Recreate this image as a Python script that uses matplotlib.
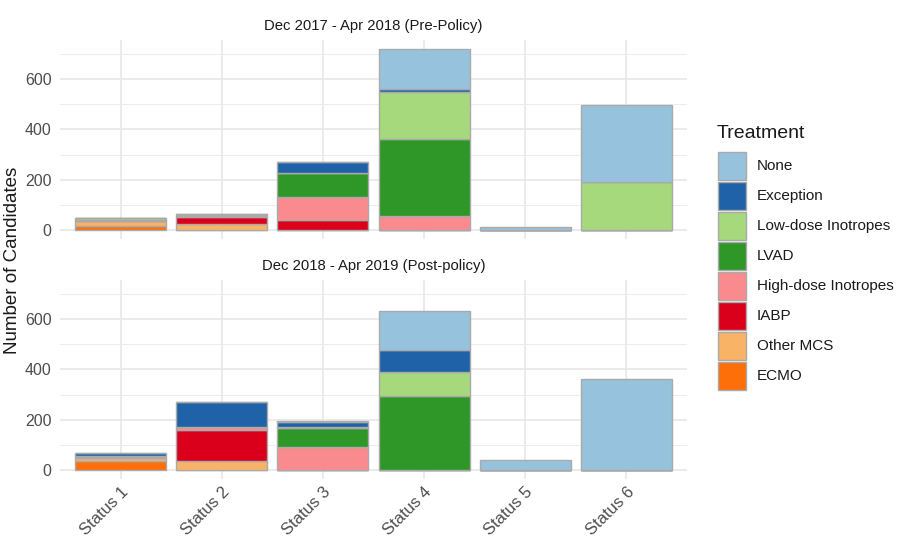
import matplotlib
matplotlib.use("Agg")
import matplotlib.pyplot as plt
from matplotlib.patches import Rectangle
import numpy as np

plt.rcParams['font.family'] = ['Liberation Sans', 'DejaVu Sans']

statuses = ["Status 1", "Status 2", "Status 3", "Status 4", "Status 5", "Status 6"]
treatments = ["ECMO", "Other MCS", "IABP", "High-dose Inotropes", "LVAD",
              "Low-dose Inotropes", "Exception", "None"]
colors = {
    "None": "#96c2de",
    "Exception": "#1f62a8",
    "Low-dose Inotropes": "#a6d97c",
    "LVAD": "#2f9628",
    "High-dose Inotropes": "#f98b8e",
    "IABP": "#da001c",
    "Other MCS": "#f9b366",
    "ECMO": "#fd6f08",
}

# Pre-policy counts (Dec 2017 - Apr 2018)
pre_ecmo      = [17, 0, 0, 0, 0, 0]
pre_other_mcs = [20, 24, 0, 0, 0, 0]
pre_iabp      = [0, 26, 40, 0, 0, 0]
pre_high_dose = [0, 5, 90, 57, 0, 0]
pre_lvad      = [4, 4, 98, 306, 0, 0]
pre_low_dose  = [5, 0, 0, 185, 0, 191]
pre_exception = [0, 3, 43, 11, 0, 0]
pre_none      = [0, 0, 0, 161, 10, 307]

# Post-policy counts (Dec 2018 - Apr 2019)
post_ecmo      = [37, 0, 0, 0, 0, 0]
post_other_mcs = [10, 36, 0, 0, 0, 0]
post_iabp      = [4, 125, 0, 0, 0, 0]
post_high_dose = [4, 10, 92, 0, 0, 0]
post_lvad      = [0, 0, 75, 295, 0, 0]
post_low_dose  = [0, 0, 5, 94, 0, 0]
post_exception = [13, 101, 20, 90, 0, 0]
post_none      = [0, 0, 3, 154, 40, 361]

pre = [pre_ecmo, pre_other_mcs, pre_iabp, pre_high_dose, pre_lvad,
       pre_low_dose, pre_exception, pre_none]
post = [post_ecmo, post_other_mcs, post_iabp, post_high_dose, post_lvad,
        post_low_dose, post_exception, post_none]

panel_titles = ["Dec 2017 - Apr 2018 (Pre-Policy)", "Dec 2018 - Apr 2019 (Post-policy)"]
legend_order = ["None", "Exception", "Low-dose Inotropes", "LVAD",
                "High-dose Inotropes", "IABP", "Other MCS", "ECMO"]

W, H = 900, 541
fig = plt.figure(figsize=(W / 100, H / 100), dpi=100)

def fig_rect(x0, y0, x1, y1):
    return [x0 / W, 1 - y1 / H, (x1 - x0) / W, (y1 - y0) / H]

axes = [fig.add_axes(fig_rect(60, 40, 687, 239)),
        fig.add_axes(fig_rect(60, 280, 687, 479))]

x = np.arange(len(statuses))
all_tot = np.concatenate([np.sum(pre, axis=0), np.sum(post, axis=0)])
ymax = all_tot.max()
ylo, yhi = -0.05 * ymax, 1.05 * ymax

for ax, data, title in zip(axes, [pre, post], panel_titles):
    bottom = np.zeros(len(statuses))
    for name, vals in zip(treatments, data):
        vals = np.array(vals, dtype=float)
        ax.bar(x, vals, width=0.9, bottom=bottom, color=colors[name],
               edgecolor="#aaaaaa", linewidth=1.0, zorder=3)
        bottom += vals
    ax.set_xlim(-0.6, len(statuses) - 0.4)
    ax.set_ylim(ylo, yhi)
    ax.set_yticks([0, 200, 400, 600])
    ax.set_yticks([100, 300, 500, 700], minor=True)
    ax.set_xticks(x)
    ax.grid(True, which="major", color="#e6e6e6", linewidth=1.1, zorder=0)
    ax.grid(True, which="minor", axis="y", color="#ececec", linewidth=0.7, zorder=0)
    ax.tick_params(which="both", length=0, labelsize=11.5, labelcolor="#4d4d4d", pad=6)
    for s in ax.spines.values():
        s.set_visible(False)
    ax.set_title(title, fontsize=10.7, color="#1a1a1a", pad=7)

axes[0].set_xticklabels([])
axes[1].set_xticklabels(statuses, rotation=45, ha="right", va="top",
                        rotation_mode="anchor", fontsize=12)
axes[1].tick_params(axis="x", pad=4)

fig.text(13 / W, 1 - 260 / H, "Number of Candidates", rotation=90,
         ha="center", va="center", fontsize=13.5, color="#1a1a1a")

# Legend drawn in figure pixel coordinates
def fx(px):
    return px / W

def fy(py):
    return 1 - py / H

fig.text(fx(717), fy(133), "Treatment", ha="left", va="center",
         fontsize=14, color="#1a1a1a")
for i, name in enumerate(legend_order):
    top = 152 + 30 * i
    fig.add_artist(Rectangle((fx(718), fy(top + 28)), 28 / W, 28 / H,
                             transform=fig.transFigure, facecolor=colors[name],
                             edgecolor="#aaaaaa", linewidth=1.0))
    fig.text(fx(757), fy(top + 14), name, ha="left", va="center",
             fontsize=11, color="#1a1a1a")

fig.savefig("out.png", dpi=100, facecolor="white")
